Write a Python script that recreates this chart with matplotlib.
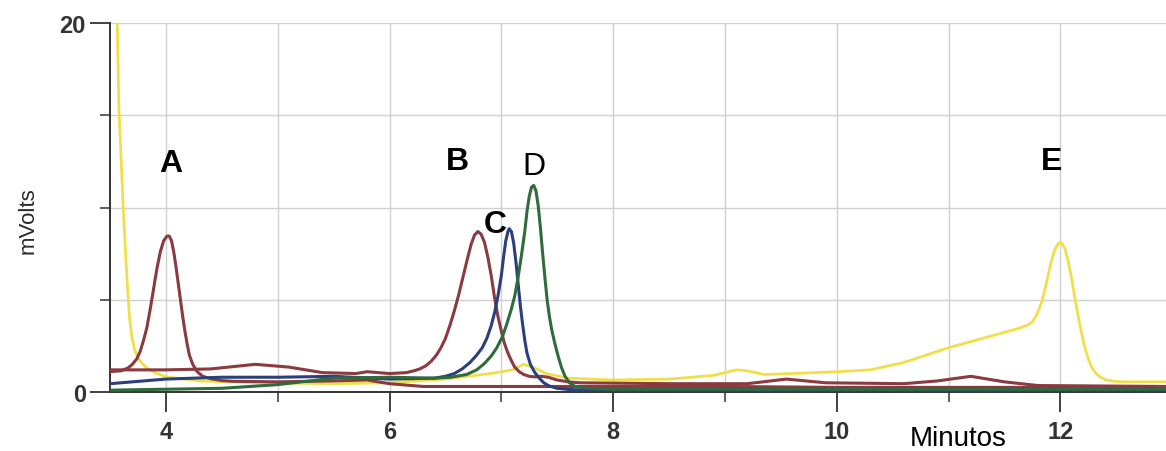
import numpy as np
import matplotlib
matplotlib.use("Agg")
import matplotlib.pyplot as plt

plt.rcParams['font.family'] = ['Liberation Sans', 'DejaVu Sans']

# ==========================================================
# Chromatogram traces (minutes, mVolts)
# ==========================================================
t_yellow = [3.555, 3.565, 3.58, 3.60, 3.615, 3.635, 3.655, 3.675, 3.695, 3.72, 3.75,
            3.78, 3.83, 3.90, 4.00, 4.30, 4.80, 5.50, 6.00, 6.50, 6.90, 7.10, 7.20,
            7.30, 7.40, 7.60, 8.00, 8.50, 8.90, 9.10, 9.20, 9.35, 9.60, 10.00,
            10.30, 10.60, 10.80, 11.00, 11.30, 11.60, 11.70, 11.75, 11.79, 11.83,
            11.86, 11.89, 11.92, 11.95, 11.98, 12.01, 12.04, 12.07, 12.10, 12.13,
            12.16, 12.19, 12.22, 12.25, 12.28, 12.32, 12.36, 12.41, 12.48, 12.55,
            12.95]
v_yellow = [22.0, 20.0, 15.3, 12.5, 10.4, 8.0, 5.8, 4.0, 3.0, 2.3, 1.85,
            1.6, 1.3, 1.05, 0.82, 0.6, 0.5, 0.45, 0.5, 0.7, 1.0, 1.2, 1.5,
            1.3, 1.0, 0.75, 0.65, 0.7, 0.9, 1.2, 1.15, 0.95, 1.0, 1.1,
            1.2, 1.6, 2.0, 2.4, 2.9, 3.4, 3.6, 3.8, 4.2, 4.8,
            5.5, 6.3, 7.1, 7.7, 8.05, 8.1, 7.8, 7.1, 6.2, 5.1,
            4.1, 3.2, 2.4, 1.8, 1.35, 1.0, 0.8, 0.65, 0.58, 0.55,
            0.55]

t_peak_a = [3.50, 3.60, 3.66, 3.70, 3.74, 3.77, 3.80, 3.83, 3.86, 3.89, 3.92, 3.95,
            3.98, 4.01, 4.03, 4.05, 4.07, 4.09, 4.11, 4.13, 4.15, 4.17, 4.19, 4.21,
            4.24, 4.28, 4.33, 4.40, 4.50, 4.60, 5.00, 5.50, 5.80, 6.00, 6.30, 7.00,
            8.00, 9.00, 10.00, 12.95]
v_peak_a = [1.1, 1.15, 1.3, 1.5, 1.8, 2.2, 2.8, 3.5, 4.5, 5.6, 6.7, 7.6,
            8.2, 8.45, 8.45, 8.2, 7.6, 6.8, 5.9, 5.0, 4.1, 3.3, 2.6, 2.0,
            1.5, 1.1, 0.85, 0.72, 0.62, 0.58, 0.55, 0.6, 0.65, 0.45, 0.3, 0.3,
            0.3, 0.3, 0.25, 0.25]

t_peak_b = [3.50, 4.00, 4.40, 4.80, 5.10, 5.40, 5.70, 5.80, 6.00, 6.15, 6.22, 6.27,
            6.32, 6.37, 6.42, 6.46, 6.50, 6.54, 6.58, 6.62, 6.66, 6.70, 6.73, 6.76,
            6.79, 6.82, 6.85, 6.88, 6.91, 6.94, 6.97, 7.00, 7.03, 7.06, 7.09, 7.12,
            7.16, 7.20, 7.25, 7.30, 7.36, 7.42, 7.50, 7.60, 7.70, 8.50, 9.20, 9.55,
            9.90, 10.60, 10.90, 11.20, 11.50, 11.80, 12.95]
v_peak_b = [1.2, 1.2, 1.25, 1.5, 1.35, 1.05, 1.0, 1.1, 1.0, 1.05, 1.15, 1.25,
            1.4, 1.65, 2.0, 2.4, 2.9, 3.6, 4.4, 5.3, 6.3, 7.3, 8.0, 8.5,
            8.7, 8.55, 8.1, 7.3, 6.3, 5.1, 4.1, 3.3, 2.6, 2.1, 1.7, 1.35,
            1.1, 0.95, 0.85, 0.82, 0.85, 0.8, 0.65, 0.55, 0.5, 0.45, 0.45, 0.7,
            0.5, 0.45, 0.6, 0.85, 0.55, 0.35, 0.3]

t_peak_c = [3.50, 3.80, 4.00, 4.50, 5.00, 5.50, 6.00, 6.40, 6.50, 6.58, 6.65, 6.72,
            6.78, 6.83, 6.87, 6.91, 6.94, 6.97, 7.00, 7.02, 7.04, 7.06, 7.07, 7.09,
            7.11, 7.13, 7.15, 7.17, 7.19, 7.21, 7.23, 7.26, 7.30, 7.34, 7.38, 7.43,
            7.50, 7.60, 7.75, 12.95]
v_peak_c = [0.45, 0.6, 0.7, 0.8, 0.8, 0.85, 0.7, 0.75, 0.85, 1.0, 1.25, 1.6,
            2.0, 2.4, 2.9, 3.6, 4.3, 5.2, 6.3, 7.3, 8.2, 8.7, 8.85, 8.7,
            8.1, 7.1, 5.9, 4.7, 3.7, 2.8, 2.1, 1.5, 1.05, 0.75, 0.5, 0.32,
            0.2, 0.14, 0.1, 0.1]

t_peak_d = [3.50, 4.00, 4.50, 5.00, 5.50, 6.00, 6.40, 6.55, 6.69, 6.78, 6.85, 6.91,
            6.96, 7.01, 7.05, 7.09, 7.12, 7.15, 7.18, 7.21, 7.23, 7.25, 7.27, 7.29,
            7.31, 7.33, 7.35, 7.37, 7.39, 7.41, 7.43, 7.45, 7.48, 7.51, 7.54, 7.57,
            7.61, 7.66, 7.75, 8.00, 12.95]
v_peak_d = [0.1, 0.15, 0.2, 0.4, 0.75, 0.8, 0.75, 0.8, 0.95, 1.2, 1.55, 1.95,
            2.4, 3.0, 3.7, 4.5, 5.2, 6.2, 7.4, 8.7, 9.8, 10.6, 11.1, 11.2,
            10.9, 10.1, 8.9, 7.5, 6.2, 5.0, 4.1, 3.4, 2.6, 1.9, 1.3, 0.85,
            0.5, 0.3, 0.2, 0.15, 0.15]

peak_labels = ["A", "B", "C", "D", "E"]
label_x = [4.04, 6.61, 6.95, 7.29, 11.92]
label_y = [11.98, 12.09, 8.67, 11.82, 12.09]
label_bold = [True, True, True, False, True]

x_major = [4, 6, 8, 10, 12]
x_minor = [5, 7, 9, 11]
y_major = [0, 20]
y_minor = [5, 10, 15]

# ==========================================================
# Figure
# ==========================================================
fig = plt.figure(figsize=(11.66, 4.52), dpi=100)
ax = fig.add_axes([110 / 1166, 59 / 452, 1056 / 1166, 369 / 452])

grid_kw = dict(color="#d0d0d0", linewidth=1.0, zorder=0)
for x in x_major + x_minor:
    ax.axvline(x, **grid_kw)
for y in y_minor + [20]:
    ax.axhline(y, **grid_kw)

ax.plot(t_yellow, v_yellow, color="#efe04a", linewidth=2.0, zorder=2)
ax.plot(t_peak_a, v_peak_a, color="#8a3a40", linewidth=2.2, zorder=3)
ax.plot(t_peak_b, v_peak_b, color="#8a3a40", linewidth=2.2, zorder=3)
ax.plot(t_peak_c, v_peak_c, color="#2c3f7c", linewidth=2.2, zorder=3)
ax.plot(t_peak_d, v_peak_d, color="#2f6b3c", linewidth=2.2, zorder=3)

for lab, lx, ly, bold in zip(peak_labels, label_x, label_y, label_bold):
    ax.text(lx, ly, lab, ha="center", va="baseline", fontsize=23,
            fontweight="bold" if bold else "normal", color="black")

ax.set_xlim(3.5, 3.5 + 1056 / 111.8)
ax.set_ylim(0, 20)

ax.set_xticks(x_major)
ax.set_xticks(x_minor, minor=True)
ax.set_yticks(y_major)
ax.set_yticks(y_minor, minor=True)

ax.tick_params(axis="both", which="major", length=14.4, width=1.3,
               color="#333333", labelsize=17, labelcolor="#333333")
ax.tick_params(axis="both", which="minor", length=7.2, width=1.1, color="#333333")
ax.tick_params(axis="x", which="major", pad=6)
ax.tick_params(axis="y", which="major", pad=3)
for lbl in ax.get_xticklabels() + ax.get_yticklabels():
    lbl.set_fontweight("bold")

for side in ["top", "right"]:
    ax.spines[side].set_visible(False)
for side in ["left", "bottom"]:
    ax.spines[side].set_color("#333333")
    ax.spines[side].set_linewidth(1.4)

fig.text(28 / 1166, 1 - 221 / 452, "mVolts", rotation=90, ha="center",
         va="center", fontsize=16, color="#2a2a2a")
fig.text(958 / 1166, 6 / 452, "Minutos", ha="center", va="baseline",
         fontsize=20, color="black")

fig.savefig("out.png", dpi=100)
plt.close(fig)
